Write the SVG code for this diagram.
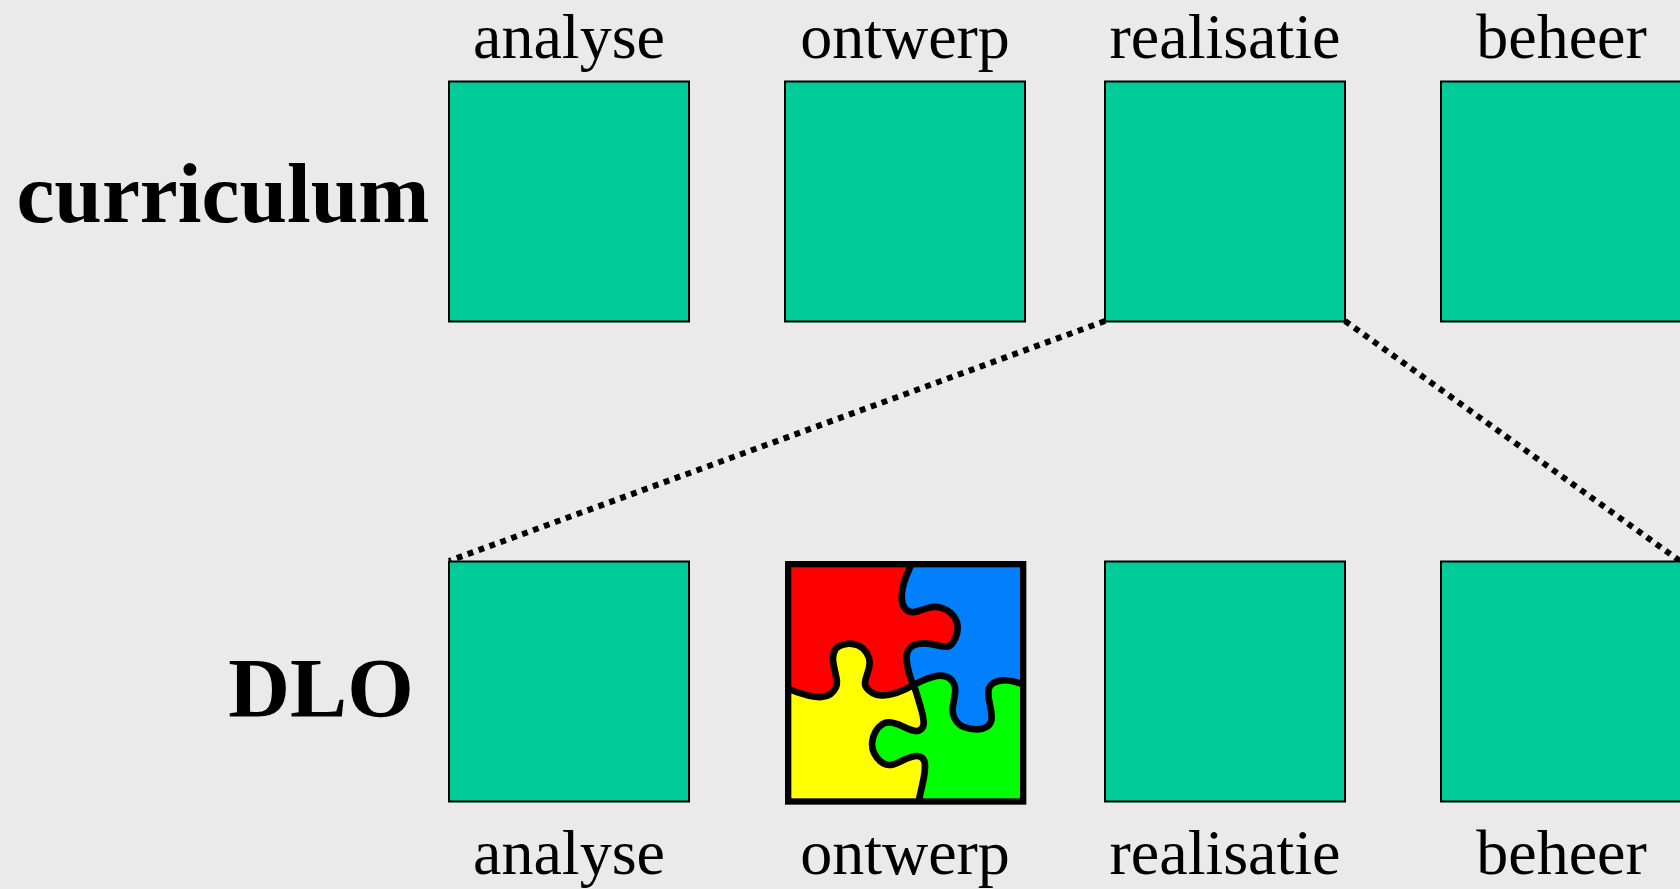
<svg xmlns="http://www.w3.org/2000/svg" width="1680" height="889" viewBox="0 0 1680 889">
<style>
.bg{fill:#eaeaea}
.box{fill:#00cc99;stroke:#000;stroke-width:2}
.lbl{font-family:"Liberation Serif","Times New Roman",serif;font-size:64px;fill:#000;text-anchor:middle}
.row{font-family:"Liberation Serif","Times New Roman",serif;font-size:85.500px;font-weight:bold;fill:#000;text-anchor:middle}
.dot{fill:none;stroke:#000;stroke-width:6;stroke-dasharray:5.800 5.800}
.seam{fill:none;stroke:#000;stroke-width:20;stroke-linecap:round;stroke-linejoin:round}
</style>
<rect class="bg" width="1680" height="889"/>
<g id="connectors">
<line class="dot" x1="1105" y1="321" x2="449" y2="561"/>
<line class="dot" x1="1345" y1="321" x2="1680" y2="561"/>
</g>
<g id="curriculum-label"><text class="row" x="223" y="222">curriculum</text></g>
<g id="dlo-label"><text class="row" x="321" y="717">DLO</text></g>
<g id="top-analyse"><rect class="box" x="449" y="81.500" width="240" height="240"/><text class="lbl" x="569" y="57.500">analyse</text></g>
<g id="top-ontwerp"><rect class="box" x="785" y="81.500" width="240" height="240"/><text class="lbl" x="905" y="57.500">ontwerp</text></g>
<g id="top-realisatie"><rect class="box" x="1105" y="81.500" width="240" height="240"/><text class="lbl" x="1225" y="57.500">realisatie</text></g>
<g id="top-beheer"><rect class="box" x="1441" y="81.500" width="240" height="240"/><text class="lbl" x="1561.500" y="57.500">beheer</text></g>
<g id="bottom-analyse"><rect class="box" x="449" y="561.500" width="240" height="240"/><text class="lbl" x="569" y="874">analyse</text></g>
<g id="bottom-ontwerp">
<g transform="translate(770 550) scale(.33333)">
<rect x="55" y="43" width="705" height="710" fill="#f00"/>
<polygon fill="#0080ff" points="420,43 420,52 405,85 395,125 395,160 410,183 430,188 460,178 495,168 530,178 555,200 565,230 558,265 540,290 515,290 480,280 445,280 420,290 408,315 412,350 423,390 432,405 470,385 510,375 540,382 558,410 552,450 545,490 565,525 600,538 640,538 665,520 665,485 655,445 655,410 680,392 715,390 750,400 760,400 760,43"/>
<polygon fill="#0f0" points="432,405 470,385 510,375 540,382 558,410 552,450 545,490 565,525 600,538 640,538 665,520 665,485 655,445 655,410 680,392 715,390 750,400 760,400 760,753 446,753 448,745 458,700 465,665 465,630 445,615 410,625 370,645 345,645 320,625 305,595 308,560 325,530 350,515 385,522 420,540 445,545 462,530 460,500 447,455"/>
<polygon fill="#ff0" points="55,420 64,420 95,432 140,442 170,440 192,425 203,400 195,365 187,325 195,295 220,282 250,280 280,293 300,325 298,355 285,390 285,410 305,430 335,438 380,430 432,405 447,455 460,500 462,530 445,545 420,540 385,522 350,515 325,530 308,560 305,595 320,625 345,645 370,645 410,625 445,615 465,630 465,665 458,700 448,745 446,753 55,753"/>
<path class="seam" d="M420 52Q405 85 400 105T395 142.500T402.500 171.500T420 185.500T445 183T477.500 173T512.500 173T542.500 189T560 215T561.500 247.500T549 277.500T527.500 290T497.500 285T462.500 280T432.500 285T414 302.500T410 332.500T417.500 370T427.500 397.500T439.500 430T453.500 477.500T461 515T453.500 537.500T432.500 542.500T402.500 531T367.500 518.500T337.500 522.500T316.500 545T306.500 577.500T312.500 610T332.500 635T357.500 645T390 635T427.500 620T455 622.500T465 647.500T461.500 682.500T453 722.500L448 745"/>
<path class="seam" d="M64 420Q95 432 117.500 437T155 441T181 432.500T197.500 412.500T199 382.500T191 345T191 310T207.500 288.500T235 281T265 286.500T290 309T299 340T291.500 372.500T285 400T295 420T320 434T357.500 434T406 417.500T451 395T490 380T525 378.500T549 396T555 430T548.500 470T555 507.500T582.500 531.500T620 538T652.500 529T665 502.500T660 465T655 427.500T667.500 401T697.500 391T732.500 395L750 400"/>
<rect x="54.500" y="42.500" width="705" height="712" fill="none" stroke="#000" stroke-width="19"/>
</g>
<text class="lbl" x="905" y="874">ontwerp</text>
</g>
<g id="bottom-realisatie"><rect class="box" x="1105" y="561.500" width="240" height="240"/><text class="lbl" x="1225" y="874">realisatie</text></g>
<g id="bottom-beheer"><rect class="box" x="1441" y="561.500" width="240" height="240"/><text class="lbl" x="1561.500" y="874">beheer</text></g>
</svg>
